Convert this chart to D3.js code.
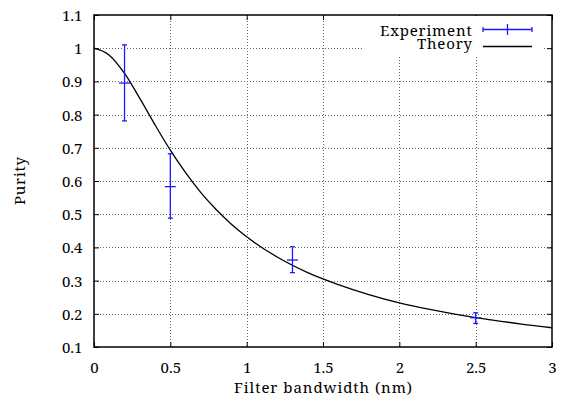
<!DOCTYPE html>
<html><head><meta charset="utf-8">
<script src="https://cdn.jsdelivr.net/npm/d3@7/dist/d3.min.js"></script>
<style>body{margin:0;background:#fff}svg{display:block}text{font-family:"Noto Serif",serif;fill:#000}</style>
</head><body><svg id="c" width="561" height="400"></svg>
<script>
// Experiment points
const expX = [0.2, 0.5, 1.3, 2.5];
const expY = [0.895, 0.583, 0.362, 0.188];
const expLo = [0.781, 0.488, 0.324, 0.171];
const expHi = [1.010, 0.682, 0.402, 0.203];
// Theory curve
const thX = [0, 0.1, 0.2, 0.3, 0.4, 0.5, 0.6, 0.7, 0.8, 0.9, 1.0, 1.2, 1.4, 1.6, 1.8, 2.0, 2.2, 2.4, 2.6, 2.8, 3.0];
const thY = [1.000, 0.979, 0.924, 0.849, 0.769, 0.693, 0.625, 0.565, 0.514, 0.470, 0.432, 0.371, 0.324, 0.288, 0.258, 0.233, 0.213, 0.196, 0.182, 0.169, 0.158];
const xTicks = [0, 0.5, 1, 1.5, 2, 2.5, 3];
const yTicks = [0.1, 0.2, 0.3, 0.4, 0.5, 0.6, 0.7, 0.8, 0.9, 1, 1.1];

const L = 94, R = 552, T = 15, B = 347;
const svg = d3.select("#c");
const x = d3.scaleLinear().domain([0, 3]).range([L, R]);
const y = d3.scaleLinear().domain([0.1, 1.1]).range([B, T]);
const fs = 15;
const FF = '"Noto Serif",serif';

// grid
const grid = svg.append("g").attr("stroke", "#666").attr("stroke-width", 1).attr("stroke-dasharray", "1,2");
grid.selectAll(".gx").data(xTicks.slice(1, -1)).join("line")
  .attr("x1", d => Math.round(x(d)) + 0.5).attr("x2", d => Math.round(x(d)) + 0.5)
  .attr("y1", T).attr("y2", B);
grid.selectAll(".gy").data(yTicks.slice(1, -1)).join("line")
  .attr("y1", d => Math.round(y(d)) + 0.5).attr("y2", d => Math.round(y(d)) + 0.5)
  .attr("x1", L).attr("x2", R);

// axes with inward ticks on all sides
const ax = svg.append("g").attr("transform", `translate(0,${B})`)
  .call(d3.axisBottom(x).tickValues(xTicks).tickSize(-5).tickFormat(d3.format("")));
const axT = svg.append("g").attr("transform", `translate(0,${T})`)
  .call(d3.axisTop(x).tickValues(xTicks).tickSize(-5).tickFormat(""));
const ay = svg.append("g").attr("transform", `translate(${L},0)`)
  .call(d3.axisLeft(y).tickValues(yTicks).tickSize(-5).tickFormat(d3.format("")));
const ayR = svg.append("g").attr("transform", `translate(${R},0)`)
  .call(d3.axisRight(y).tickValues(yTicks).tickSize(-5).tickFormat(""));
[ax, axT, ay, ayR].forEach(g => {
  g.attr("font-family", null);
  g.select(".domain").remove();
  g.selectAll("line").attr("stroke", "#000").attr("stroke-width", 1);
  g.selectAll("text").style("font-family", FF).style("font-size", fs + "px").attr("fill", "#000");
});
ax.selectAll("text").attr("y", 25.7).attr("dy", "0");
ay.selectAll("text").attr("x", -11.5).attr("y", 5.5).attr("dy", "0");

// legend background (opaque)
svg.append("rect").attr("x", 363).attr("y", T + 1).attr("width", 180).attr("height", 41).attr("fill", "#fff");

// frame
svg.append("rect").attr("x", L).attr("y", T).attr("width", R - L).attr("height", B - T)
  .attr("fill", "none").attr("stroke", "#000").attr("stroke-width", 1.5);

// theory curve
const plot = svg.append("g");
plot.append("path").datum(thX.map((d, i) => [d, thY[i]]))
  .attr("fill", "none").attr("stroke", "#000").attr("stroke-width", 1.3)
  .attr("d", d3.line().x(d => x(d[0])).y(d => y(d[1])).curve(d3.curveMonotoneX));

// experiment error bars
const blue = "#1a1aff";
const eg = plot.append("g").attr("stroke", blue).attr("stroke-width", 1.3).attr("fill", "none");
const exp = expX.map((d, i) => ({ x: d, y: expY[i], lo: expLo[i], hi: expHi[i] }));
eg.selectAll(".v").data(exp).join("line")
  .attr("x1", d => x(d.x)).attr("x2", d => x(d.x)).attr("y1", d => y(d.lo)).attr("y2", d => y(d.hi));
eg.selectAll(".ch").data(exp).join("line")
  .attr("x1", d => x(d.x) - 2.5).attr("x2", d => x(d.x) + 2.5).attr("y1", d => y(d.hi)).attr("y2", d => y(d.hi));
eg.selectAll(".cl").data(exp).join("line")
  .attr("x1", d => x(d.x) - 2.5).attr("x2", d => x(d.x) + 2.5).attr("y1", d => y(d.lo)).attr("y2", d => y(d.lo));
eg.selectAll(".p").data(exp).join("line")
  .attr("x1", d => x(d.x) - 5.5).attr("x2", d => x(d.x) + 5.5).attr("y1", d => y(d.y)).attr("y2", d => y(d.y));

// legend
const lg = svg.append("g");
lg.append("text").attr("x", 380).attr("y", 35.7).attr("textLength", 91.7).attr("lengthAdjust", "spacing")
  .style("font-size", fs + "px").text("Experiment");
lg.append("text").attr("x", 417).attr("y", 49.3).attr("textLength", 55).attr("lengthAdjust", "spacing")
  .style("font-size", fs + "px").text("Theory");
const lb = lg.append("g").attr("stroke", blue).attr("stroke-width", 1.3);
lb.append("line").attr("x1", 483).attr("x2", 532).attr("y1", 29.5).attr("y2", 29.5);
lb.append("line").attr("x1", 483).attr("x2", 483).attr("y1", 27).attr("y2", 32);
lb.append("line").attr("x1", 532).attr("x2", 532).attr("y1", 27).attr("y2", 32);
lb.append("line").attr("x1", 507.5).attr("x2", 507.5).attr("y1", 24).attr("y2", 35);
lg.append("line").attr("x1", 483).attr("x2", 532).attr("y1", 46.5).attr("y2", 46.5).attr("stroke", "#000").attr("stroke-width", 1.3);

// axis titles
svg.append("text").attr("x", 234).attr("y", 393.3).attr("textLength", 178).attr("lengthAdjust", "spacing")
  .style("font-size", fs + "px").text("Filter bandwidth (nm)");
svg.append("text").attr("transform", "translate(25,181) rotate(-90)").attr("x", -24).attr("y", 0)
  .attr("textLength", 48).attr("lengthAdjust", "spacing")
  .style("font-size", fs + "px").text("Purity");
</script></body></html>
